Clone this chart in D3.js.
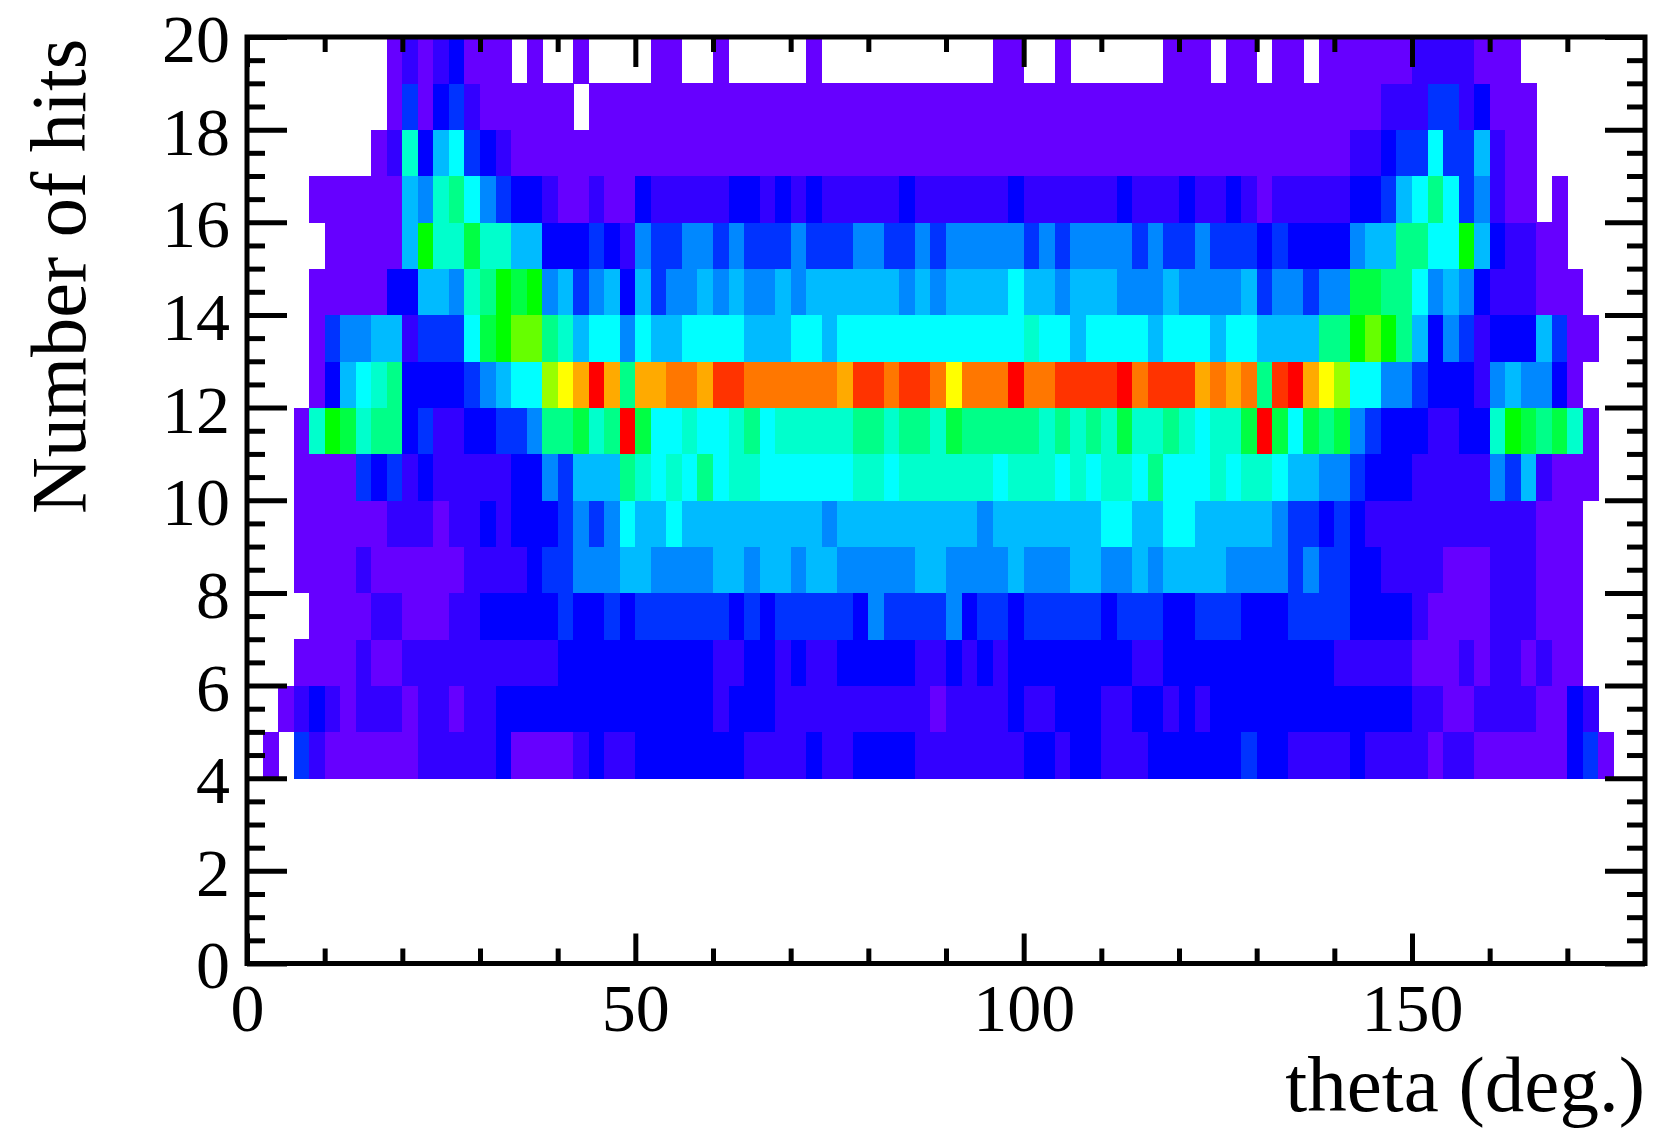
<!DOCTYPE html>
<html><head><meta charset="utf-8">
<script src="https://cdn.jsdelivr.net/npm/d3@7/dist/d3.min.js"></script>
<style>html,body{margin:0;padding:0;background:#fff}svg{display:block}text{font-family:"Liberation Serif",serif;fill:#000}</style>
</head><body><svg id="c" width="1656" height="1139"></svg>
<script>
const row19=[0,0,0,0,0,0,0,0,0,1, 2,1,2,3,1,1,1,0,1,0, 0,1,0,0,0,0,1,1,0,0, 1,0,0,0,0,0,1,0,0,0, 0,0,0,0,0,0,0,0,1,1, 0,0,1,0,0,0,0,0,0,1, 1,1,0,1,1,0,1,1,0,1, 1,1,1,1,1,2,2,2,2,1, 1,1,0,0,0,0,0,0,0,0];
const row18=[0,0,0,0,0,0,0,0,0,1, 4,1,3,4,2,1,1,1,1,1, 1,0,1,1,1,1,1,1,1,1, 1,1,1,1,1,1,1,1,1,1, 1,1,1,1,1,1,1,1,1,1, 1,1,1,1,1,1,1,1,1,1, 1,1,1,1,1,1,1,1,1,1, 1,1,1,2,2,2,4,4,2,3, 1,1,1,0,0,0,0,0,0,0];
const row17=[0,0,0,0,0,0,0,0,1,2, 8,3,6,7,4,3,2,1,1,1, 1,1,1,1,1,1,1,1,1,1, 1,1,1,1,1,1,1,1,1,1, 1,1,1,1,1,1,1,1,1,1, 1,1,1,1,1,1,1,1,1,1, 1,1,1,1,1,1,1,1,1,1, 1,2,2,3,4,4,7,4,4,6, 2,1,1,0,0,0,0,0,0,0];
const row16=[0,0,0,0,1,1,1,1,1,1, 6,5,8,9,7,5,4,3,3,2, 1,1,2,1,1,3,2,2,2,2, 2,3,3,2,3,2,3,2,2,2, 2,2,3,2,2,2,2,2,2,3, 2,2,2,2,2,2,3,2,2,2, 3,2,2,3,2,1,2,2,2,2, 2,3,3,4,6,7,9,7,4,5, 2,1,1,0,1,0,0,0,0,0];
const row15=[0,0,0,0,0,1,1,1,1,1, 6,11,8,8,10,8,8,6,6,3, 3,3,4,3,2,5,4,4,5,5, 4,5,4,4,4,5,4,4,4,5, 5,4,4,5,4,5,5,5,5,5, 4,5,4,5,5,5,5,4,5,4, 4,5,4,4,4,3,4,3,3,3, 3,5,6,6,9,9,7,7,11,6, 3,2,2,1,1,0,0,0,0,0];
const row14=[0,0,0,0,1,1,1,1,1,3, 3,6,6,5,8,9,11,10,11,5, 6,4,5,6,3,6,4,5,5,6, 5,6,5,5,6,5,6,6,6,6, 6,6,5,6,5,6,6,6,6,7, 6,6,5,6,6,6,5,5,5,6, 5,5,5,5,6,4,5,5,4,5, 5,10,10,9,9,7,5,6,5,3, 2,2,2,1,1,1,0,0,0,0];
const row13=[0,0,0,0,1,4,5,5,6,6, 2,4,4,4,7,10,11,12,12,9, 8,6,7,7,5,7,6,6,7,7, 7,7,6,6,6,7,7,6,7,7, 7,7,7,7,7,7,7,7,7,7, 8,7,7,6,7,7,7,7,6,7, 7,7,6,7,7,6,6,6,6,9, 9,11,12,11,9,6,3,5,4,2, 3,3,3,6,4,1,1,0,0,0];
const row12=[0,0,0,0,1,3,6,7,8,9, 3,3,3,3,4,5,6,7,7,13, 14,15,18,15,9,15,15,16,16,15, 17,17,16,16,16,16,16,16,15,17, 17,16,17,17,16,14,16,16,16,18, 16,16,17,17,17,17,18,16,17,17, 17,15,16,15,16,9,17,18,15,14, 13,7,7,5,5,4,3,3,3,2, 5,6,5,5,3,1,0,0,0,0];
const row11=[0,0,0,1,8,11,10,8,9,9, 3,4,2,2,3,3,4,4,5,9, 9,10,8,9,18,10,7,7,8,7, 7,8,9,7,8,8,8,8,8,9, 9,8,9,9,8,10,9,9,9,9, 9,8,9,8,9,8,10,8,8,9, 8,7,8,8,10,18,10,7,10,9, 10,5,4,3,3,3,2,2,3,3, 8,11,10,9,10,8,1,0,0,0];
const row10=[0,0,0,1,1,1,1,4,3,4, 2,3,2,2,2,2,2,3,3,5, 4,6,6,6,9,8,7,8,7,9, 7,8,8,7,7,7,7,7,7,8, 8,7,8,8,8,8,8,8,7,8, 8,8,7,8,7,8,8,7,9,7, 7,7,8,7,8,8,7,6,6,5, 5,4,3,3,3,2,2,2,2,2, 5,4,6,2,1,1,1,0,0,0];
const row9=[0,0,0,1,1,1,1,1,1,2, 2,2,1,2,2,3,2,3,3,3, 4,5,4,5,7,6,6,7,6,6, 6,6,6,6,6,6,6,5,6,6, 6,6,6,6,6,6,6,5,6,6, 6,6,6,6,6,7,7,6,6,7, 7,6,6,6,6,6,5,4,4,3, 4,3,2,2,2,2,2,2,2,2, 2,2,2,1,1,1,0,0,0,0];
const row8=[0,0,0,1,1,1,1,2,1,1, 1,1,1,1,2,2,2,2,3,4, 4,5,5,5,6,6,5,5,5,5, 6,6,5,6,6,5,6,6,5,5, 5,5,5,6,6,5,5,5,5,6, 5,5,5,6,6,5,5,6,5,6, 6,6,6,5,5,5,5,4,5,4, 4,3,3,2,2,2,2,1,1,1, 2,2,2,1,1,1,0,0,0,0];
const row7=[0,0,0,0,1,1,1,1,2,2, 1,1,1,2,2,3,3,3,3,3, 4,3,3,4,3,4,4,4,4,4, 4,3,4,3,4,4,4,4,4,3, 5,4,4,4,4,5,3,4,4,3, 4,4,4,4,4,3,4,4,4,3, 3,4,4,4,3,3,3,4,4,4, 4,3,3,3,3,2,1,1,1,1, 2,2,2,1,1,1,0,0,0,0];
const row6=[0,0,0,1,1,1,1,2,1,1, 2,2,2,2,2,2,2,2,2,2, 3,3,3,3,3,3,3,3,3,3, 2,2,3,3,2,3,2,2,3,3, 3,3,3,2,2,3,2,3,2,3, 3,3,3,3,3,3,3,2,2,3, 3,3,3,3,3,3,3,3,3,3, 2,2,2,2,2,1,1,1,2,1, 2,2,1,2,1,1,0,0,0,0];
const row5=[0,0,1,2,3,2,1,2,2,2, 1,2,2,1,2,2,3,3,3,3, 3,3,3,3,3,3,3,3,3,3, 2,3,3,3,2,2,2,2,2,2, 2,2,2,2,1,2,2,2,2,3, 2,2,3,3,3,2,2,3,3,2, 3,2,3,3,3,3,3,3,3,3, 3,3,3,3,3,2,2,1,1,2, 2,2,2,1,1,3,2,0,0,0];
const row4=[0,1,0,4,2,1,1,1,1,1, 1,2,2,2,2,2,3,1,1,1, 1,2,3,2,2,3,3,3,3,3, 3,3,2,2,2,2,3,2,2,3, 3,3,3,2,2,2,2,2,2,2, 3,3,2,3,3,2,2,2,3,3, 3,3,3,3,4,3,3,2,2,2, 2,3,2,2,2,2,1,2,2,1, 1,1,1,1,1,3,4,1,0,0];
const rowLows=[4,5,6,7,8,9,10,11,12,13,14,15,16,17,18,19];
const rows=[row4,row5,row6,row7,row8,row9,row10,row11,row12,row13,row14,row15,row16,row17,row18,row19];
const palette=["#6600ff","#3300ff","#0000ff","#0033ff","#0088ff","#00bbff","#00ffff","#00ffcc","#00ff88","#00ff44","#00ff00","#66ff00","#99ff00","#ffff00","#ffaa00","#ff7700","#ff3300","#ff0000"];
const levels=d3.range(1,19);
const xMajor=[0,50,100,150];
const xMinor=[10,20,30,40,60,70,80,90,110,120,130,140,160,170];
const yMajor=[0,2,4,6,8,10,12,14,16,18,20];
const yMinor=d3.range(0.5,20,0.5).filter(v=>v%2!==0);
const binWidth=2;

const L=247,R=1645,T=37,B=963.5;
const svg=d3.select("#c");
const x=d3.scaleLinear().domain([0,180]).range([L,R]);
const y=d3.scaleLinear().domain([0,20]).range([B,T]);
const color=d3.scaleOrdinal().domain(levels).range(palette);

const g=svg.append("g").attr("shape-rendering","crispEdges");
rows.forEach((vals,r)=>{
  g.selectAll(null).data(vals.map((v,i)=>({v,i}))).join("rect")
   .filter(d=>d.v>0)
   .attr("x",d=>x(d.i*binWidth))
   .attr("width",d=>x((d.i+1)*binWidth)-x(d.i*binWidth)+0.5)
   .attr("y",y(rowLows[r]+1))
   .attr("height",y(rowLows[r])-y(rowLows[r]+1)+0.5)
   .attr("fill",d=>color(d.v));
});

function style(a,w){a.select(".domain").remove();a.selectAll("line").attr("stroke","#000").attr("stroke-width",w);return a;}
const fs=68;
style(svg.append("g").attr("transform",`translate(0,${B})`).call(d3.axisBottom(x).tickValues(xMinor).tickSize(-15).tickFormat("")),5);
style(svg.append("g").attr("transform",`translate(0,${T})`).call(d3.axisTop(x).tickValues(xMinor).tickSize(-15).tickFormat("")),5);
style(svg.append("g").attr("transform",`translate(0,${T})`).call(d3.axisTop(x).tickValues(xMajor).tickSize(-30).tickFormat("")),5);
const xa=style(svg.append("g").attr("transform",`translate(0,${B})`).call(d3.axisBottom(x).tickValues(xMajor).tickSize(-30).tickPadding(0).tickFormat(d3.format("d"))),5);
xa.selectAll("text").attr("font-size",fs).attr("font-family","Liberation Serif").attr("fill","#000").attr("dy",null).attr("y",67);
style(svg.append("g").attr("transform",`translate(${L},0)`).call(d3.axisLeft(y).tickValues(yMinor).tickSize(-18).tickFormat("")),5);
style(svg.append("g").attr("transform",`translate(${R},0)`).call(d3.axisRight(y).tickValues(yMinor).tickSize(-18).tickFormat("")),5);
style(svg.append("g").attr("transform",`translate(${R},0)`).call(d3.axisRight(y).tickValues(yMajor).tickSize(-40).tickFormat("")),5);
const ya=style(svg.append("g").attr("transform",`translate(${L},0)`).call(d3.axisLeft(y).tickValues(yMajor).tickSize(-40).tickPadding(0).tickFormat(d3.format("d"))),5);
ya.selectAll("text").attr("font-size",fs).attr("font-family","Liberation Serif").attr("fill","#000").attr("x",-17).attr("dy","0.36em");
svg.append("rect").attr("x",L).attr("y",T).attr("width",R-L).attr("height",B-T).attr("fill","none").attr("stroke","#000").attr("stroke-width",5);

svg.append("text").attr("x",1645).attr("y",1111).attr("text-anchor","end").attr("font-size",79).text("theta (deg.)");
svg.append("text").attr("transform","translate(85,514) rotate(-90)").attr("text-anchor","start").attr("font-size",78.5).text("Number of hits");
</script></body></html>
